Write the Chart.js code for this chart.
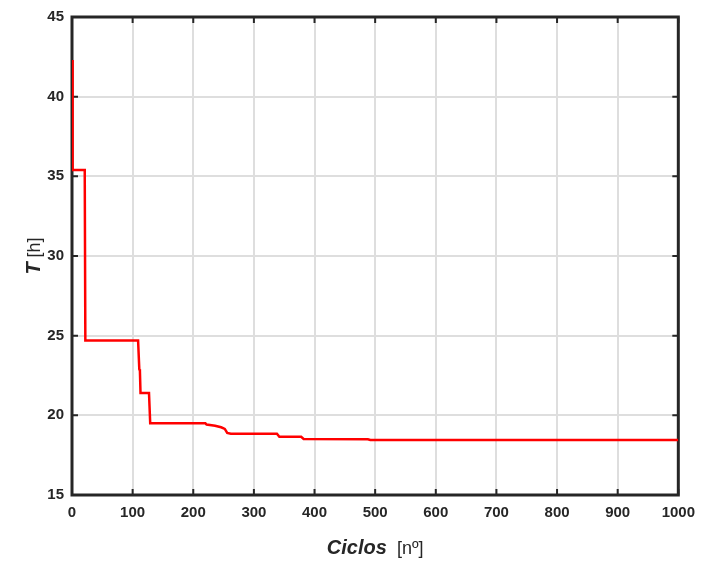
<!DOCTYPE html>
<html>
<head>
<meta charset="utf-8">
<script src="https://cdn.jsdelivr.net/npm/chart.js@4/dist/chart.umd.min.js"></script>
<style>
  html, body { margin: 0; padding: 0; background: #fff; }
  #wrap { width: 704px; height: 563px; }
</style>
</head>
<body>
<div id="wrap"><canvas id="myChart" width="704" height="563"></canvas></div>
<script>
// cycles and best time T [h]
const ciclos = [0, 1, 21, 22, 109, 111, 112, 113, 127, 129, 220, 222, 236, 246, 252, 256, 262, 338, 342, 378, 382, 488, 492, 1000];
const tiempo = [42.3, 35.4, 35.4, 24.7, 24.7, 22.9, 22.8, 21.4, 21.4, 19.5, 19.5, 19.42, 19.35, 19.25, 19.15, 18.9, 18.84, 18.84, 18.65, 18.65, 18.52, 18.5, 18.45, 18.45];
const xTicks = [0, 100, 200, 300, 400, 500, 600, 700, 800, 900, 1000];
const yTicks = [15, 20, 25, 30, 35, 40, 45];

const dark = '#262626';
const tickFont = { family: "'Liberation Sans', Arial, sans-serif", size: 15, weight: 'bold' };

// frame + inward ticks (under the line), axis titles
const framePlugin = {
  id: 'frame',
  beforeDatasetsDraw(chart) {
    const ctx = chart.ctx, a = chart.chartArea;
    const xs = chart.scales.x, ys = chart.scales.y;
    ctx.save();
    ctx.strokeStyle = dark;
    ctx.lineWidth = 2;
    xTicks.forEach(v => {
      const px = xs.getPixelForValue(v);
      ctx.beginPath();
      ctx.moveTo(px, a.bottom); ctx.lineTo(px, a.bottom - 6);
      ctx.moveTo(px, a.top); ctx.lineTo(px, a.top + 6);
      ctx.stroke();
    });
    yTicks.forEach(v => {
      const py = ys.getPixelForValue(v);
      ctx.beginPath();
      ctx.moveTo(a.left, py); ctx.lineTo(a.left + 6, py);
      ctx.moveTo(a.right, py); ctx.lineTo(a.right - 6, py);
      ctx.stroke();
    });
    ctx.lineWidth = 3;
    ctx.strokeRect(a.left, a.top, a.right - a.left, a.bottom - a.top);
    ctx.restore();
  },
  afterDraw(chart) {
    const ctx = chart.ctx, a = chart.chartArea;
    ctx.save();
    ctx.fillStyle = dark;
    ctx.textBaseline = 'alphabetic';
    const bi = "italic bold 20px 'Liberation Sans', Arial, sans-serif";
    const nr = "18px 'Liberation Sans', Arial, sans-serif";
    ctx.font = bi;
    const w1 = ctx.measureText('Ciclos').width;
    ctx.font = nr;
    const w2 = ctx.measureText('  [nº]').width;
    let x0 = (a.left + a.right) / 2 - (w1 + w2) / 2;
    ctx.font = bi;
    ctx.fillText('Ciclos', x0, 554);
    ctx.font = nr;
    ctx.fillText('  [nº]', x0 + w1, 554);

    ctx.translate(40, (a.top + a.bottom) / 2);
    ctx.rotate(-Math.PI / 2);
    ctx.font = bi;
    const t1 = ctx.measureText('T').width;
    ctx.font = nr;
    const t2 = ctx.measureText(' [h]').width;
    x0 = -(t1 + t2) / 2;
    ctx.font = bi;
    ctx.fillText('T', x0, 0);
    ctx.font = nr;
    ctx.fillText(' [h]', x0 + t1, 0);
    ctx.restore();
  }
};

new Chart(document.getElementById('myChart').getContext('2d'), {
  type: 'line',
  data: {
    datasets: [{
      data: ciclos.map((c, i) => ({ x: c, y: tiempo[i] })),
      borderColor: '#ff0000',
      borderWidth: 2.5,
      pointRadius: 0,
      tension: 0,
      fill: false
    }]
  },
  options: {
    responsive: false,
    animation: false,
    layout: { padding: { left: 0, right: 22, top: 14, bottom: 0 } },
    plugins: { legend: { display: false }, tooltip: { enabled: false } },
    scales: {
      x: {
        type: 'linear', min: 0, max: 1000,
        afterBuildTicks: s => { s.ticks = xTicks.map(v => ({ value: v })); },
        afterFit: s => { s.height = 68; },
        grid: { color: '#dedede', lineWidth: 2, drawTicks: false },
        border: { display: false },
        ticks: { color: dark, font: tickFont, padding: 9, maxRotation: 0, callback: v => String(v) }
      },
      y: {
        type: 'linear', min: 15, max: 45,
        afterBuildTicks: s => { s.ticks = yTicks.map(v => ({ value: v })); },
        afterFit: s => { s.width = 72; },
        grid: { color: '#dedede', lineWidth: 2, drawTicks: false },
        border: { display: false },
        ticks: { color: dark, font: tickFont, padding: 8, callback: v => String(v) }
      }
    }
  },
  plugins: [framePlugin]
});
</script>
</body>
</html>
